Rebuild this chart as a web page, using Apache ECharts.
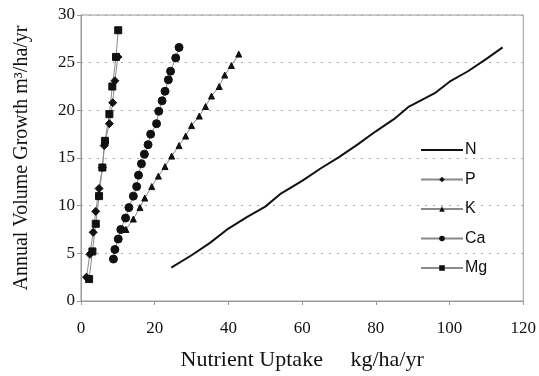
<!DOCTYPE html>
<html><head><meta charset="utf-8">
<script src="https://cdn.jsdelivr.net/npm/echarts@6/dist/echarts.min.js"></script>
<style>html,body{margin:0;padding:0;background:#fff}#c{width:539px;height:376px}</style>
</head><body><div id="c"></div>
<script>
const nX = [24.5, 30, 35, 40, 45, 50, 54, 60, 65, 70, 75, 80, 85, 89, 96, 100, 105, 110, 114.4];
const nY = [3.5, 4.8, 6.1, 7.6, 8.8, 9.9, 11.2, 12.6, 13.9, 15.1, 16.4, 17.8, 19.1, 20.4, 21.8, 23.0, 24.1, 25.4, 26.6];
const pX = [1.5, 2.4, 3.3, 4.0, 4.9, 5.8, 6.3, 7.7, 8.6, 9.2, 10.0];
const pY = [2.5, 4.9, 7.2, 9.4, 11.8, 14.0, 16.3, 18.6, 20.8, 23.1, 25.6];
const kX = [12.2, 14.2, 16.0, 17.3, 19.2, 21.0, 22.8, 24.6, 26.6, 28.4, 30.0, 32.1, 33.8, 35.4, 37.5, 39.0, 40.8, 42.8];
const kY = [7.5, 8.6, 9.8, 10.8, 12.0, 13.1, 14.1, 15.2, 16.3, 17.3, 18.4, 19.4, 20.4, 21.5, 22.5, 23.7, 24.7, 25.9];
const caX = [8.8, 9.2, 10.1, 10.8, 12.1, 13.0, 14.2, 15.1, 15.6, 16.4, 17.2, 18.2, 18.9, 20.5, 21.1, 22.0, 22.8, 23.7, 24.3, 25.7, 26.6];
const caY = [4.4, 5.4, 6.5, 7.5, 8.7, 9.8, 11.0, 12.0, 13.2, 14.4, 15.4, 16.4, 17.5, 18.6, 19.9, 21.0, 22.0, 23.2, 24.1, 25.5, 26.6];
const mgX = [2.2, 3.1, 4.0, 4.9, 5.8, 6.5, 7.7, 8.5, 9.5, 10.1];
const mgY = [2.3, 5.2, 8.1, 11.0, 14.0, 16.8, 19.6, 22.5, 25.6, 28.4];
const xTicks = [0, 20, 40, 60, 80, 100, 120];
const yTicks = [0, 5, 10, 15, 20, 25, 30];
const seriesNames = ['N', 'P', 'K', 'Ca', 'Mg'];

const zip = (a, b) => a.map((v, i) => [v, b[i]]);
const serif = '"Liberation Serif", "Times New Roman", serif';
const sans = '"Liberation Sans", Arial, sans-serif';

function markSeries(name, xs, ys, symbol, size) {
  return {
    name, type: 'line', data: zip(xs, ys), symbol, symbolSize: size,
    showSymbol: true,
    lineStyle: { color: '#8a8a8a', width: 1 },
    itemStyle: { color: '#111', borderColor: '#111' },
    animation: false
  };
}

const chart = echarts.init(document.getElementById('c'));
chart.setOption({
  animation: false,
  grid: { left: 81, right: 15, top: 15, bottom: 74, show: true, borderColor: '#999', borderWidth: 1 },
  xAxis: {
    type: 'value', min: xTicks[0], max: xTicks[xTicks.length - 1], interval: 20,
    name: 'Nutrient Uptake     kg/ha/yr', nameLocation: 'middle', nameGap: 48,
    nameTextStyle: { fontFamily: serif, fontSize: 22, color: '#111' },
    axisLine: { lineStyle: { color: '#999' } },
    axisTick: { show: true, inside: false, length: 4, lineStyle: { color: '#999' } },
    axisLabel: { fontFamily: serif, fontSize: 17, color: '#111', margin: 19 },
    splitLine: { show: false }
  },
  yAxis: {
    type: 'value', min: yTicks[0], max: yTicks[yTicks.length - 1], interval: 5,
    name: 'Annual Volume Growth m³/ha/yr', nameLocation: 'middle', nameGap: 49, nameRotate: 90,
    nameTextStyle: { fontFamily: serif, fontSize: 20, color: '#111' },
    axisLine: { show: true, lineStyle: { color: '#999' } },
    axisTick: { show: true, inside: false, length: 4, lineStyle: { color: '#999' } },
    axisLabel: { fontFamily: serif, fontSize: 17, color: '#111', margin: 6 },
    splitLine: { show: true, lineStyle: { color: '#aaa', type: [2, 6], width: 1 } }
  },
  legend: {
    orient: 'vertical', left: 415, top: 137,
    itemWidth: 42, itemHeight: 7, itemGap: 13.5,
    textStyle: { fontFamily: sans, fontSize: 16, lineHeight: 16, color: '#111', padding: [0, 0, 0, -3] },
    data: seriesNames.map(n => n === 'N'
      ? { name: n, icon: 'path://M0,0 L42,0 L42,2 L0,2 Z' }
      : { name: n })
  },
  series: [
    { name: seriesNames[0], type: 'line', data: zip(nX, nY), symbol: 'none', showSymbol: false,
      lineStyle: { color: '#111', width: 2 }, itemStyle: { color: '#111' } },
    markSeries(seriesNames[1], pX, pY, 'diamond', 8),
    markSeries(seriesNames[2], kX, kY, 'triangle', 6),
    markSeries(seriesNames[3], caX, caY, 'circle', 8),
    markSeries(seriesNames[4], mgX, mgY, 'rect', 7)
  ]
});
</script></body></html>
